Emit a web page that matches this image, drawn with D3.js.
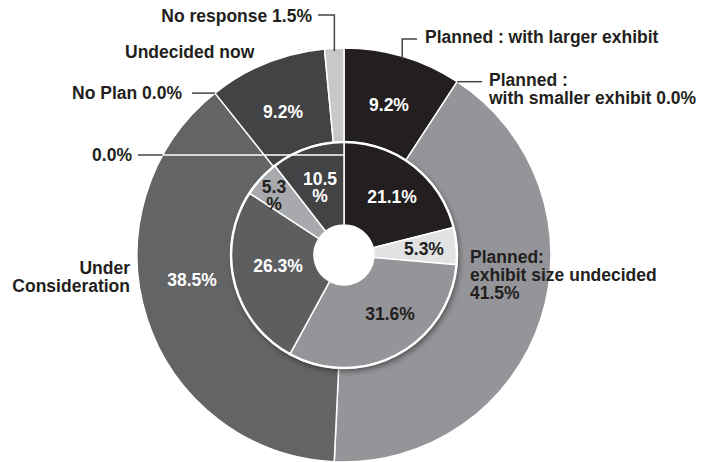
<!DOCTYPE html>
<html>
<head>
<meta charset="utf-8">
<script src="https://cdn.jsdelivr.net/npm/d3@7"></script>
<style>
  html, body { margin: 0; padding: 0; background: #fff; }
  svg { display: block; }
  text { font-family: "Liberation Sans", Arial, Helvetica, sans-serif; font-weight: bold; font-size: 17.5px; }
</style>
</head>
<body>
<svg id="chart" width="719" height="462"></svg>
<script>
// ---- data ----
const outerCategories = [
  "Planned : with larger exhibit",
  "Planned : with smaller exhibit",
  "Planned: exhibit size undecided",
  "Under Consideration",
  "Zero",
  "No Plan",
  "Undecided now",
  "No response"
];
const outerValues = [9.2, 0.0, 41.5, 38.5, 0.0, 0.0, 9.2, 1.5];
const outerColors = ["#231f20", "#939598", "#939598", "#636466", "#636466", "#636466", "#424345", "#c7c8ca"];

const innerCategories = ["A", "B", "C", "D", "E", "F"];
const innerValues = [21.1, 5.3, 31.6, 26.3, 5.3, 10.5];
const innerColors = ["#231f20", "#e1e2e3", "#939598", "#5d5e60", "#a7a9ac", "#424345"];

// ---- layout ----
const W = 719, H = 462;
const cx = 344, cy = 255;
const R = 207, Rmid = 113, Rhole = 30;

const svg = d3.select("#chart");
const defs = svg.append("defs");
const f = defs.append("filter").attr("id", "shadow")
  .attr("x", "-20%").attr("y", "-20%").attr("width", "140%").attr("height", "140%");
f.append("feDropShadow").attr("dx", 2).attr("dy", 3).attr("stdDeviation", 3)
  .attr("flood-color", "#000").attr("flood-opacity", 0.5);

const g = svg.append("g").attr("transform", `translate(${cx},${cy})`);

const pie = d3.pie().sort(null).value(d => d).startAngle(0).endAngle(2 * Math.PI);
const outerArcs = pie(outerValues);
const innerArcs = pie(innerValues);

const outerArc = d3.arc().innerRadius(0).outerRadius(R);
const innerArc = d3.arc().innerRadius(Rhole).outerRadius(Rmid);

// outer ring (drawn as full pie; inner ring covers the middle)
g.append("g").selectAll("path").data(outerArcs.filter(d => d.data > 0)).join("path")
  .attr("d", outerArc)
  .attr("fill", d => outerColors[d.index])
  .attr("stroke", "#fff").attr("stroke-width", 1.5).attr("stroke-linejoin", "round");

// shadow disc under inner ring
g.append("circle").attr("r", Rmid).attr("fill", "#5d5e60").attr("filter", "url(#shadow)");

// inner ring
g.append("g").selectAll("path").data(innerArcs).join("path")
  .attr("d", innerArc)
  .attr("fill", (d, i) => innerColors[i])
  .attr("stroke", "#fff").attr("stroke-width", 1.5);

g.append("circle").attr("r", Rmid).attr("fill", "none").attr("stroke", "#fff").attr("stroke-width", 2.5);
g.append("circle").attr("r", Rhole).attr("fill", "#fff");

// helper: point on circle at pie angle (0 = top, clockwise)
const polar = (a, r) => [r * Math.sin(a), -r * Math.cos(a)];
const mid = d => (d.startAngle + d.endAngle) / 2;

// ---- leader lines ----
const lineColor = "#444";
const leaders = g.append("g").attr("fill", "none").attr("stroke", lineColor).attr("stroke-width", 1.5);
const pts = arr => arr.map(q => q.join(",")).join(" ");

// No response (index 7)
{
  const p = polar(mid(outerArcs[7]), R - 3);
  leaders.append("polyline").attr("points", pts([[318 - cx, 15 - cy], [p[0], 15 - cy], p]));
}
// Planned larger (index 0)
{
  const p = polar(mid(outerArcs[0]), R - 3);
  leaders.append("polyline").attr("points", pts([[417 - cx, 39 - cy], [p[0], 39 - cy], p]));
}
// Planned smaller (index 1, zero slice)
{
  const p = polar(outerArcs[1].startAngle, R);
  leaders.append("polyline").attr("points", pts([[482 - cx, p[1]], p]));
}
// No Plan (index 5, zero slice)
{
  const p = polar(outerArcs[5].startAngle, R);
  leaders.append("polyline").attr("points", pts([[192 - cx, p[1]], p]));
}
// 0.0% (index 4): dark outside the ring, white across it
{
  const yy = -100;
  const xe = -Math.sqrt(R * R - yy * yy);
  leaders.append("line").attr("x1", 138 - cx).attr("y1", yy).attr("x2", xe).attr("y2", yy);
  g.append("line").attr("x1", xe).attr("y1", yy).attr("x2", 0).attr("y2", yy)
    .attr("stroke", "#fff").attr("stroke-width", 1.5);
}

// ---- in-slice labels (offsets from center) ----
const outerInside = [
  { lines: ["9.2%"], dx: 45, dy: -144, fill: "#fff" },
  { lines: ["9.2%"], dx: -61, dy: -137, fill: "#fff" },
  { lines: ["38.5%"], dx: -152, dy: 31, fill: "#fff" }
];
const innerInside = [
  { lines: ["21.1%"], dx: 48, dy: -52, fill: "#fff" },
  { lines: ["5.3%"], dx: 80, dy: 0, fill: "#231f20" },
  { lines: ["31.6%"], dx: 46, dy: 65, fill: "#231f20" },
  { lines: ["26.3%"], dx: -66, dy: 17, fill: "#fff" },
  { lines: ["5.3", "%"], dx: -70, dy: -62, fill: "#231f20" },
  { lines: ["10.5", "%"], dx: -24, dy: -70, fill: "#fff" }
];
outerInside.concat(innerInside).forEach(l => {
  const t = g.append("text").attr("text-anchor", "middle").attr("fill", l.fill)
    .attr("x", l.dx).attr("y", l.dy);
  l.lines.forEach((s, k) => t.append("tspan").attr("x", l.dx).attr("dy", k === 0 ? 0 : 17).text(s));
});

// ---- outside labels ----
const outsideLabels = [
  { lines: ["No response 1.5%"], x: 312, y: 22, anchor: "end" },
  { lines: ["Undecided now"], x: 125, y: 58, anchor: "start" },
  { lines: ["No Plan 0.0%"], x: 182, y: 99, anchor: "end" },
  { lines: ["0.0%"], x: 132, y: 161, anchor: "end" },
  { lines: ["Planned : with larger exhibit"], x: 425, y: 43, anchor: "start" },
  { lines: ["Planned :", "with smaller exhibit 0.0%"], x: 489, y: 86, anchor: "start" },
  { lines: ["Planned:", "exhibit size undecided", "41.5%"], x: 470, y: 263, anchor: "start" },
  { lines: ["Under", "Consideration"], x: 130, y: 274, anchor: "end" }
];
outsideLabels.forEach(l => {
  const t = svg.append("text").attr("text-anchor", l.anchor).attr("fill", "#231f20")
    .attr("x", l.x).attr("y", l.y);
  l.lines.forEach((s, k) => t.append("tspan").attr("x", l.x).attr("dy", k === 0 ? 0 : 18).text(s));
});
</script>
</body>
</html>
